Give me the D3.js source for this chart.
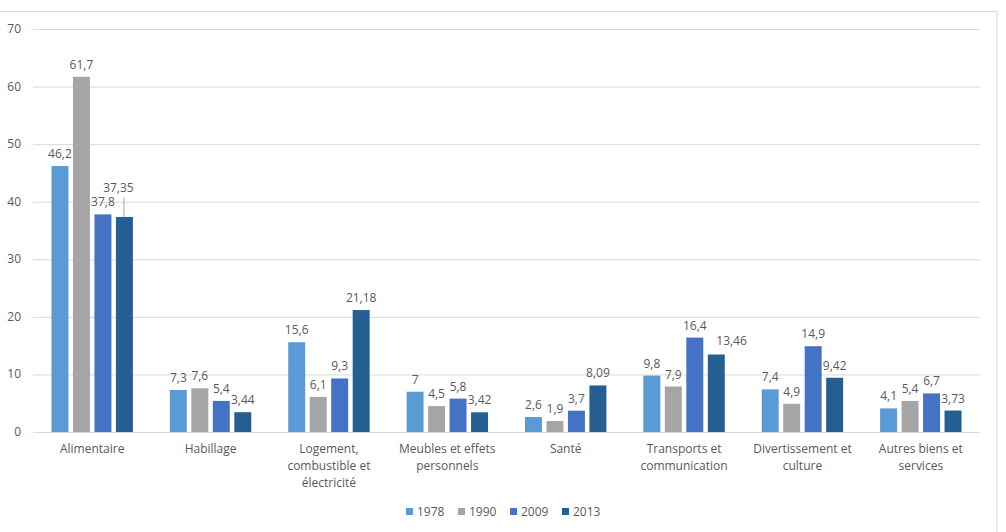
<!DOCTYPE html>
<html>
<head>
<meta charset="utf-8">
<script src="https://cdn.jsdelivr.net/npm/d3@7"></script>
<style>
  body { margin: 0; background: #fff; }
  text { font-family: "Open Sans", "Liberation Sans", sans-serif; fill: #595959; }
</style>
</head>
<body>
<svg id="chart" width="1006" height="532"></svg>
<script>
// donnees
var categories = ["Alimentaire", "Habillage", "Logement, combustible et électricité",
  "Meubles et effets personnels", "Santé", "Transports et communication",
  "Divertissement et culture", "Autres biens et services"];
var categoryLines = [["Alimentaire"], ["Habillage"], ["Logement,", "combustible et", "électricité"],
  ["Meubles et effets", "personnels"], ["Santé"], ["Transports et", "communication"],
  ["Divertissement et", "culture"], ["Autres biens et", "services"]];
var annees = ["1978", "1990", "2009", "2013"];
var v1978 = [46.2, 7.3, 15.6, 7, 2.6, 9.8, 7.4, 4.1];
var v1990 = [61.7, 7.6, 6.1, 4.5, 1.9, 7.9, 4.9, 5.4];
var v2009 = [37.8, 5.4, 9.3, 5.8, 3.7, 16.4, 14.9, 6.7];
var v2013 = [37.35, 3.44, 21.18, 3.42, 8.09, 13.46, 9.42, 3.73];
var yTicks = [0, 10, 20, 30, 40, 50, 60, 70];
var couleurs = ["#5B9BD5", "#A5A5A5", "#4472C4", "#255E91"];

var series = [v1978, v1990, v2009, v2013];
var fs = 12;
var svg = d3.select("#chart");

// cadre
svg.append("rect")
  .attr("x", -1).attr("y", 11.5).attr("width", 998).attr("height", 540)
  .attr("fill", "none").attr("stroke", "#d9d9d9");

var x0 = d3.scaleBand().domain(categories).range([33, 980]);
var x1 = d3.scaleBand().domain(annees).range([0, x0.bandwidth()])
  .paddingInner(0.21).paddingOuter(0.86);
var y = d3.scaleLinear().domain([0, 70]).range([432, 29]);

// grille
svg.append("g").selectAll("line")
  .data(yTicks.slice(1))
  .join("line")
  .attr("x1", 33).attr("x2", 980)
  .attr("y1", function(d){ return y(d) + 0.5; })
  .attr("y2", function(d){ return y(d) + 0.5; })
  .attr("stroke", "#d9d9d9").attr("stroke-width", 1);

svg.append("g").selectAll("text")
  .data(yTicks)
  .join("text")
  .attr("x", 21)
  .attr("y", function(d){ return y(d) + 4; })
  .attr("text-anchor", "end")
  .attr("font-size", fs)
  .text(function(d){ return d; });

// barres
var donnees = [];
for (var i = 0; i < categories.length; i++) {
  for (var j = 0; j < annees.length; j++) {
    donnees.push({ cat: categories[i], annee: annees[j], v: series[j][i], k: j });
  }
}

svg.append("g").selectAll("rect")
  .data(donnees)
  .join("rect")
  .attr("x", function(d){ return x0(d.cat) + x1(d.annee); })
  .attr("y", function(d){ return y(d.v); })
  .attr("width", x1.bandwidth())
  .attr("height", function(d){ return y(0) - y(d.v); })
  .attr("fill", function(d){ return couleurs[d.k]; });

// axe des x
svg.append("line")
  .attr("x1", 33).attr("x2", 980)
  .attr("y1", 432.5).attr("y2", 432.5)
  .attr("stroke", "#d9d9d9");

// etiquettes de valeurs (deplacement simple si chevauchement)
var gLab = svg.append("g");
var prev = null;
donnees.forEach(function(d) {
  var bx = x0(d.cat) + x1(d.annee);
  var cx = bx + x1.bandwidth() / 2;
  var ly = y(d.v) - 8;
  var txt = String(d.v).replace(".", ",");
  var w = txt.length * 6.3;
  var lx = cx;
  var anchor = "middle";
  var leader = false;
  if (prev && prev.cat === d.cat) {
    if (Math.abs(prev.y - ly) < 13 && (prev.x + prev.w / 2) - (cx - w / 2) > 3) {
      // chevauche l'etiquette precedente : on monte avec un trait
      ly = prev.y - 14;
      lx = cx - 6;
      leader = true;
    } else if (cx - w / 2 < prev.barRight && ly > prev.barTop) {
      // chevauche la barre voisine : on decale a droite
      lx = cx;
      ly = ly - 2;
      anchor = "start";
    }
  }
  if (leader) {
    gLab.append("line")
      .attr("x1", cx - 0.5).attr("x2", cx - 0.5)
      .attr("y1", ly + 5).attr("y2", y(d.v))
      .attr("stroke", "#a6a6a6");
  }
  gLab.append("text")
    .attr("x", lx).attr("y", ly)
    .attr("text-anchor", anchor)
    .attr("font-size", fs)
    .text(txt);
  prev = { cat: d.cat, x: anchor === "start" ? lx + w / 2 : lx, y: ly, w: w,
    barRight: bx + x1.bandwidth(), barTop: y(d.v) };
});

// libelles des categories
var gCat = svg.append("g");
categories.forEach(function(c, i) {
  var t = gCat.append("text")
    .attr("x", x0(c) + x0.bandwidth() / 2)
    .attr("y", 453)
    .attr("text-anchor", "middle")
    .attr("font-size", fs);
  categoryLines[i].forEach(function(l, k) {
    t.append("tspan")
      .attr("x", x0(c) + x0.bandwidth() / 2)
      .attr("dy", k === 0 ? 0 : 17)
      .text(l);
  });
});

// legende
var leg = svg.append("g");
var lx0 = 406;
var legStep = [0, 52, 104, 156];
annees.forEach(function(a, i) {
  leg.append("rect")
    .attr("x", lx0 + legStep[i]).attr("y", 508)
    .attr("width", 7).attr("height", 7)
    .attr("fill", couleurs[i]);
  leg.append("text")
    .attr("x", lx0 + legStep[i] + 11).attr("y", 516)
    .attr("font-size", fs)
    .text(a);
});
</script>
</body>
</html>
